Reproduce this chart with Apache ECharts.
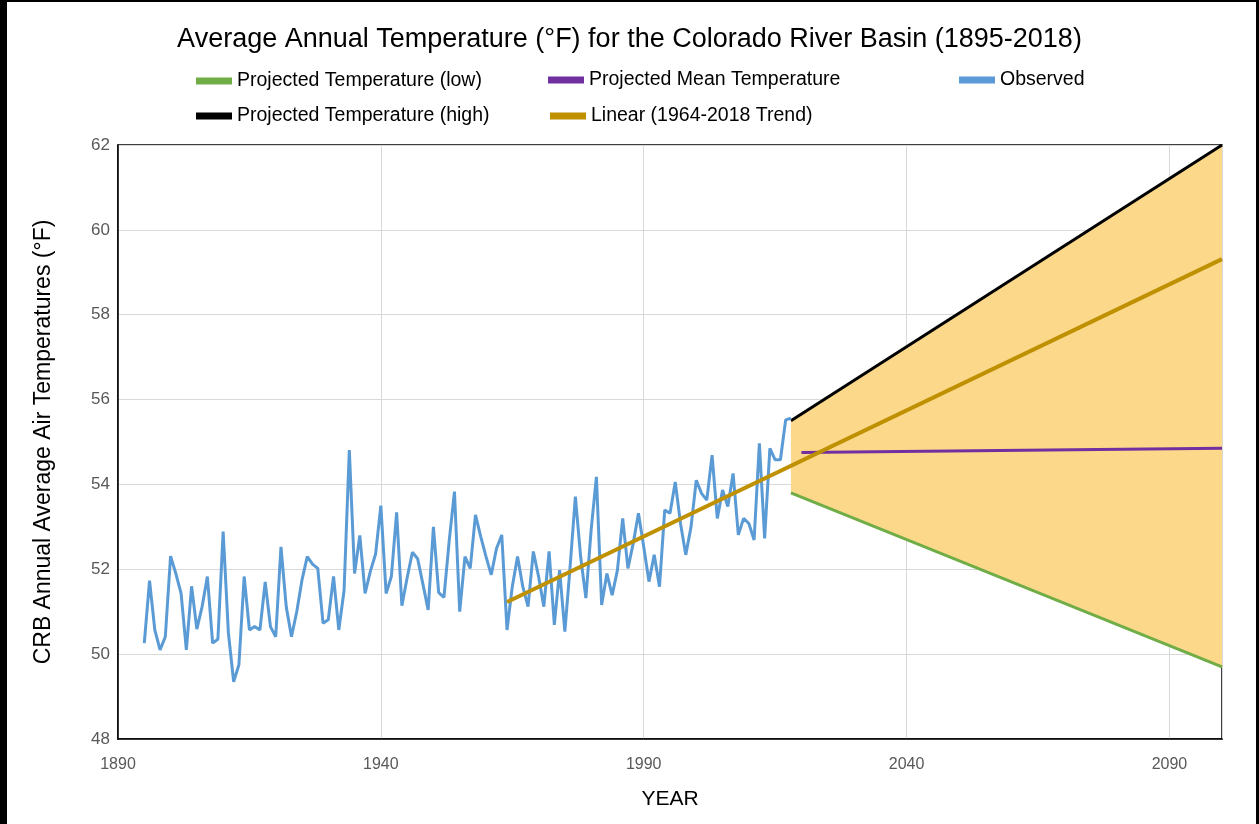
<!DOCTYPE html>
<html>
<head>
<meta charset="utf-8">
<title>Colorado River Basin temperature</title>
<script src="https://cdn.jsdelivr.net/npm/echarts@6/dist/echarts.min.js"></script>
<style>
    html, body { margin: 0; padding: 0; background: #fff; }
    #chart { position: absolute; left: 0; top: 0; width: 1259px; height: 824px; }
    #frame {
        position: absolute; left: 0; top: 0; width: 1259px; height: 824px;
        box-sizing: border-box; pointer-events: none;
        border-left: 7px solid #000; border-right: 3px solid #000; border-top: 2px solid #000;
    }
</style>
</head>
<body>
<div id="chart"></div>
<div id="frame"></div>
<script>
/* jshint strict: false */

// observed annual means, 1895-2018
var obsStart = 1895;
var obsTemps = [
    50.26, 51.73, 50.57, 50.10, 50.41, 52.31, 51.90, 51.43, 50.10, 51.60,
    50.59, 51.12, 51.83, 50.26, 50.35, 52.89, 50.50, 49.35, 49.75, 51.83,
    50.57, 50.65, 50.57, 51.70, 50.65, 50.41, 52.53, 51.12, 50.41, 51.00,
    51.75, 52.30, 52.12, 52.02, 50.73, 50.81, 51.83, 50.57, 51.50, 54.81,
    51.90, 52.80, 51.43, 51.95, 52.36, 53.50, 51.43, 51.83, 53.34, 51.14,
    51.80, 52.40, 52.25, 51.65, 51.04, 53.00, 51.45, 51.34, 52.67, 53.83,
    51.00, 52.30, 52.02, 53.28, 52.77, 52.30, 51.87, 52.49, 52.81, 50.57,
    51.59, 52.30, 51.59, 51.12, 52.42, 51.83, 51.12, 52.42, 50.69, 51.98,
    50.53, 52.06, 53.71, 52.30, 51.32, 52.93, 54.18, 51.16, 51.90, 51.39,
    51.98, 53.20, 52.02, 52.61, 53.32, 52.53, 51.71, 52.34, 51.59, 53.40,
    53.32, 54.06, 53.08, 52.34, 53.00, 54.10, 53.79, 53.63, 54.69, 53.20,
    53.87, 53.48, 54.26, 52.81, 53.20, 53.08, 52.69, 54.97, 52.73, 54.85,
    54.58, 54.58, 55.52, 55.56
];

// projections
var projYears = [2018, 2100];
var projLow = [53.8, 49.7];
var projHigh = [55.5, 62.0];
var meanYears = [2020, 2100];
var projMean = [54.75, 54.85];

// linear trend fitted on 1964-2018
var trendYears = [1964, 2100];
var trendVals = [51.23, 59.31];

var pairs = function (xs, ys) {
    return xs.map(function (x, i) { return [x, ys[i]]; });
};

var obsData = obsTemps.map(function (v, i) { return [obsStart + i, v]; });

var font = '"Liberation Sans", Arial, sans-serif';

var legendBase = function (name, left, top) {
    return {
        data: [name],
        left: left,
        top: top,
        padding: 0,
        icon: 'rect',
        itemWidth: 36,
        itemHeight: 7,
        selectedMode: false,
        textStyle: { fontFamily: font, fontSize: 19.5, color: '#000' }
    };
};

// shaded range between low and high projections
var renderBand = function (params, api) {
    var pts = [];
    var i;
    for (i = 0; i < projYears.length; i++) {
        pts.push(api.coord([projYears[i], projLow[i]]));
    }
    for (i = projYears.length - 1; i >= 0; i--) {
        pts.push(api.coord([projYears[i], projHigh[i]]));
    }
    return {
        type: 'polygon',
        shape: { points: pts },
        style: { fill: '#FCD98A' }
    };
};

var crb = echarts.init(document.getElementById('chart'));

var crb_option = {
    animation: false,
    backgroundColor: '#fff',
    title: {
        text: 'Average Annual Temperature (°F) for the Colorado River Basin (1895-2018)',
        left: 'center',
        top: 21,
        textStyle: { fontFamily: font, fontSize: 27, fontWeight: 'normal', color: '#000' }
    },
    legend: [
        legendBase('Projected Temperature (low)', 196, 71),
        legendBase('Projected Mean Temperature', 548, 70),
        legendBase('Observed', 959, 70),
        legendBase('Projected Temperature (high)', 196, 106),
        legendBase('Linear (1964-2018 Trend)', 550, 106)
    ],
    grid: {
        left: 118,
        right: 37,
        top: 145,
        bottom: 85,
        show: true,
        borderColor: '#000',
        borderWidth: 1.5
    },
    xAxis: {
        type: 'value',
        min: 1890,
        max: 2100,
        interval: 50,
        name: 'YEAR',
        nameLocation: 'middle',
        nameGap: 50,
        nameTextStyle: { fontFamily: font, fontSize: 21, color: '#000' },
        axisLine: { show: true, lineStyle: { color: '#000', width: 1.5 } },
        axisTick: { show: false },
        axisLabel: {
            showMaxLabel: false, margin: 18, fontFamily: font, fontSize: 16, color: '#595959',
            formatter: function (v) { return String(v); }
        },
        splitLine: { show: true, lineStyle: { color: '#D9D9D9', width: 1 } }
    },
    yAxis: {
        type: 'value',
        min: 48,
        max: 62,
        interval: 2,
        name: 'CRB Annual Average Air Temperatures (°F)',
        nameLocation: 'middle',
        nameGap: 63,
        nameTextStyle: { fontFamily: font, fontSize: 23, color: '#000' },
        axisLine: { show: true, lineStyle: { color: '#000', width: 1.5 } },
        axisTick: { show: false },
        axisLabel: { margin: 8, fontFamily: font, fontSize: 17, color: '#595959' },
        splitLine: { show: true, lineStyle: { color: '#D9D9D9', width: 1 } }
    },
    series: [
        {
            name: 'band',
            type: 'custom',
            renderItem: renderBand,
            data: [[projYears[0], projLow[0]]],
            silent: true,
            z: 1
        },
        {
            name: 'Projected Temperature (low)',
            type: 'line',
            data: pairs(projYears, projLow),
            symbol: 'none',
            color: '#70AD47',
            lineStyle: { width: 3 },
            z: 3
        },
        {
            name: 'Projected Temperature (high)',
            type: 'line',
            data: pairs(projYears, projHigh),
            symbol: 'none',
            color: '#000000',
            lineStyle: { width: 3 },
            z: 3
        },
        {
            name: 'Projected Mean Temperature',
            type: 'line',
            data: pairs(meanYears, projMean),
            symbol: 'none',
            color: '#7030A0',
            lineStyle: { width: 3 },
            z: 3
        },
        {
            name: 'Observed',
            type: 'line',
            data: obsData,
            symbol: 'none',
            color: '#5B9BD5',
            lineStyle: { width: 3 },
            z: 4
        },
        {
            name: 'Linear (1964-2018 Trend)',
            type: 'line',
            data: pairs(trendYears, trendVals),
            symbol: 'none',
            color: '#BF9000',
            lineStyle: { width: 4 },
            z: 5
        }
    ]
};

crb.setOption(crb_option);
</script>
</body>
</html>
